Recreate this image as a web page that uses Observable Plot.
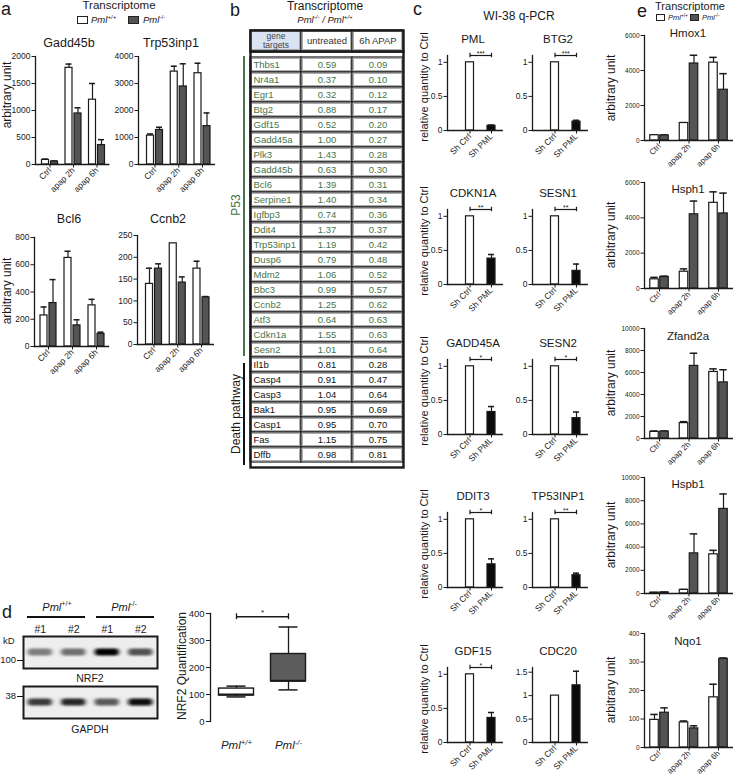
<!DOCTYPE html>
<html><head><meta charset="utf-8">
<script src="https://cdn.jsdelivr.net/npm/d3@7"></script>
<script src="https://cdn.jsdelivr.net/npm/@observablehq/plot@0.6"></script>
<style>
body{margin:0;background:#fff;}
#fig{position:relative;width:733px;height:778px;overflow:hidden;font-family:"Liberation Sans",Arial,Helvetica,sans-serif;color:#1a1a1a;background:#fff;}
.abs{position:absolute;white-space:nowrap;line-height:1;}
sup{font-size:0.65em;vertical-align:super;line-height:0;}
</style></head><body><div id="fig"></div>
<script>
// ================= DATA =================
// Panel a (Transcriptome, arbitrary unit)
const aCats = ["Ctrl", "apap 2h", "apap 6h"];
const gadd45bWT = [85, 1790, 1200];
const gadd45bWTErr = [15, 70, 300];
const gadd45bKO = [55, 945, 360];
const gadd45bKOErr = [10, 105, 100];
const trp53inp1WT = [1070, 3440, 3380];
const trp53inp1WTErr = [60, 200, 370];
const trp53inp1KO = [1280, 2890, 1420];
const trp53inp1KOErr = [100, 840, 490];
const bcl6WT = [228, 650, 302];
const bcl6WTErr = [62, 49, 44];
const bcl6KO = [319, 155, 93];
const bcl6KOErr = [172, 41, 12];
const ccnb2WT = [139, 232, 174];
const ccnb2WTErr = [36, 0, 17];
const ccnb2KO = [174, 142, 108];
const ccnb2KOErr = [11, 13, 2];
const gadd45bTicks = [0, 500, 1000, 1500, 2000];
const trp53inp1Ticks = [0, 1000, 2000, 3000, 4000];
const bcl6Ticks = [0, 200, 400, 600, 800];
const ccnb2Ticks = [0, 50, 100, 150, 200, 250];

// Panel b (table)
const tableColumns = ["gene targets", "untreated", "6h APAP"];
const p53Genes = ["Thbs1","Nr4a1","Egr1","Btg2","Gdf15","Gadd45a","Plk3","Gadd45b","Bcl6","Serpine1","Igfbp3","Ddit4","Trp53inp1","Dusp6","Mdm2","Bbc3","Ccnb2","Atf3","Cdkn1a","Sesn2"];
const p53Untreated = [0.59,0.37,0.32,0.88,0.52,1.00,1.43,0.63,1.39,1.40,0.74,1.37,1.19,0.79,1.06,0.99,1.25,0.64,1.55,1.01];
const p53APAP = [0.09,0.10,0.12,0.17,0.20,0.27,0.28,0.30,0.31,0.34,0.36,0.37,0.42,0.48,0.52,0.57,0.62,0.63,0.63,0.64];
const deathGenes = ["Il1b","Casp4","Casp3","Bak1","Casp1","Fas","Dffb"];
const deathUntreated = [0.81,0.91,1.04,0.95,0.95,1.15,0.98];
const deathAPAP = [0.28,0.47,0.64,0.69,0.70,0.75,0.81];

// Panel c (WI-38 q-PCR)
const cGroups = ["Sh Ctrl", "Sh PML"];
const cGenes = ["PML","BTG2","CDKN1A","SESN1","GADD45A","SESN2","DDIT3","TP53INP1","GDF15","CDC20"];
const cShCtrl = [1,1,1,1,1,1,1,1,1,1];
const cShPML = [0.07,0.13,0.38,0.20,0.33,0.24,0.34,0.18,0.36,1.22];
const cShPMLErr = [0.01,0.02,0.06,0.10,0.08,0.09,0.08,0.03,0.08,0.30];
const cStars = ["***","***","**","**","*","*","*","**","*",""];
const cTicks = [0, 0.5, 1];
const cdc20Ticks = [0, 0.5, 1, 1.5];
const cSigLevel = 1.1;

// Panel d (blot + NRF2 quantification)
const blotLanes = ["+/+ #1", "+/+ #2", "-/- #1", "-/- #2"];
const nrf2Band = [0.42, 0.48, 1.0, 0.62];
const gapdhBand = [0.72, 0.82, 0.58, 0.95];
const nrf2Groups = ["Pml+/+", "Pml-/-"];
const nrf2Min = [91, 117];
const nrf2Q1 = [96, 148];
const nrf2Median = [100, 151];
const nrf2Q3 = [122, 250];
const nrf2Max = [131, 350];
const nrf2Ticks = [0, 100, 200, 300, 400];
const nrf2SigLevel = 388;

// Panel e (Transcriptome)
const hmox1WT = [300, 1000, 4450], hmox1WTErr = [25, 20, 300];
const hmox1KO = [290, 4400, 2900], hmox1KOErr = [30, 470, 920];
const hsph1WT = [520, 950, 4850], hsph1WTErr = [110, 160, 620];
const hsph1KO = [650, 4200, 4250], hsph1KOErr = [50, 750, 1150];
const zfand2aWT = [600, 1400, 6050], zfand2aWTErr = [80, 130, 280];
const zfand2aKO = [630, 6600, 5100], zfand2aKOErr = [50, 1150, 1150];
const hspb1WT = [70, 310, 3380], hspb1WTErr = [20, 40, 340];
const hspb1KO = [90, 3460, 7290], hspb1KOErr = [30, 1680, 1290];
const nqo1WT = [97, 88, 176], nqo1WTErr = [19, 5, 46];
const nqo1KO = [122, 67, 311], nqo1KOErr = [17, 9, 3];
const hmox1Ticks = [0, 2000, 4000, 6000];
const hsph1Ticks = [0, 2000, 4000, 6000];
const zfand2aTicks = [0, 2000, 4000, 6000, 8000, 10000];
const hspb1Ticks = [0, 2000, 4000, 6000, 8000, 10000];
const nqo1Ticks = [0, 100, 200, 300, 400];

// ================= HELPERS =================
const FONT = '"Liberation Sans", Arial, Helvetica, sans-serif';
const INK = "#1a1a1a";
const KO = "#545454";
const GREEN = "#47744a";
const fig = document.getElementById("fig");
const NS = "http://www.w3.org/2000/svg";

function txt(html, x, y, o = {}) {
  const d = document.createElement("div");
  d.className = "abs";
  d.innerHTML = html;
  const a = o.anchor || "middle";
  const tx = a === "start" ? "0" : a === "end" ? "-100%" : "-50%";
  d.style.left = x + "px";
  d.style.top = y + "px";
  d.style.fontSize = (o.size || 12) + "px";
  if (o.color) d.style.color = o.color;
  if (o.italic) d.style.fontStyle = "italic";
  d.style.transform = `translate(${tx},-50%)` + (o.rotate ? ` rotate(${o.rotate}deg)` : "");
  fig.appendChild(d);
}
function box(x, y, w, h, css) {
  const d = document.createElement("div");
  d.className = "abs";
  d.style.left = x + "px"; d.style.top = y + "px";
  d.style.width = w + "px"; d.style.height = h + "px";
  d.style.boxSizing = "border-box";
  Object.assign(d.style, css);
  fig.appendChild(d);
}
function put(svg, left, top) {
  svg.style.position = "absolute";
  svg.style.left = left + "px";
  svg.style.top = top + "px";
  svg.style.overflow = "visible";
  svg.style.background = "transparent";
  svg.style.maxWidth = "none";
  fig.appendChild(svg);
}
function supify(svg) {
  svg.querySelectorAll("text").forEach(t => {
    const m = /^(Pml)(.+)$/.exec(t.textContent);
    if (!m) return;
    t.textContent = "";
    const a = document.createElementNS(NS, "tspan"); a.textContent = m[1];
    const b = document.createElementNS(NS, "tspan"); b.textContent = m[2];
    b.setAttribute("baseline-shift", "super"); b.setAttribute("font-size", "0.68em");
    t.append(a, b);
    t.setAttribute("font-style", "italic");
  });
}

function pairedBars(o) {
  const ML = 40, MR = 4, MT = 6, MB = 46;
  const n = o.cats.length;
  const inset = o.cx0 - o.step / 2;
  const plotW = inset + o.step * n;
  const plotH = o.Y1 - o.Y0;
  const p = 1 - o.bw / o.step;
  const mk = (vals, errs) => o.cats.map((c, i) => ({cat: c, v: vals[i], e: errs[i]}));
  const W = mk(o.wt, o.wtErr), K = mk(o.ko, o.koErr);
  const err = (rows, dx) => [
    Plot.ruleX(rows.filter(d => d.e > 0), {x: "cat", y1: "v", y2: d => d.v + d.e, dx, stroke: INK, strokeWidth: 1.2}),
    Plot.tickY(rows.filter(d => d.e > 0), {x: "cat", y: d => d.v + d.e, dx, stroke: INK, strokeWidth: 1.5, insetLeft: o.cap, insetRight: o.cap})
  ];
  const svg = Plot.plot({
    width: ML + plotW + MR, height: MT + plotH + MB,
    marginLeft: ML, marginRight: MR, marginTop: MT, marginBottom: MB,
    style: {fontFamily: FONT, color: INK, background: "transparent", overflow: "visible"},
    x: {type: "band", domain: o.cats, paddingInner: p, paddingOuter: p / 2, insetLeft: inset, round: false},
    y: {domain: [0, o.yMax]},
    marks: [
      ...err(W, -o.off), ...err(K, o.off),
      Plot.barY(W, {x: "cat", y: "v", dx: -o.off, fill: "#ffffff", stroke: INK, strokeWidth: 1.2}),
      Plot.barY(K, {x: "cat", y: "v", dx: o.off, fill: KO, stroke: INK, strokeWidth: 1.2}),
      Plot.frame({anchor: "left", stroke: INK, strokeWidth: 1.3}),
      Plot.frame({anchor: "bottom", stroke: INK, strokeWidth: 1.3}),
      Plot.axisY({ticks: o.ticks, tickFormat: d => String(d), tickSize: 3.5, tickPadding: 1.5, fontSize: o.tfs, label: null}),
      Plot.axisX({tickSize: 3.5, tickPadding: 1, tickRotate: -45, fontSize: o.xfs, label: null})
    ]
  });
  put(svg, o.X0 - ML, o.Y0 - MT);
}

function qpcr(o) {
  const ML = 30, MR = 4, MT = 16, MB = 44;
  const Y0 = o.t + 12, Y1 = o.t + 87;
  const step = 21.5, cx0 = 22.5, bw = 8;
  const inset = cx0 - step / 2;
  const plotW = inset + step * 2;
  const p = 1 - bw / step;
  const rows = [{g: cGroups[0], v: o.ctrl, e: 0}, {g: cGroups[1], v: o.pml, e: o.err}];
  const marks = [
    Plot.ruleX(rows.filter(d => d.e > 0), {x: "g", y1: "v", y2: d => d.v + d.e, stroke: INK, strokeWidth: 1.2}),
    Plot.tickY(rows.filter(d => d.e > 0), {x: "g", y: d => d.v + d.e, stroke: INK, strokeWidth: 1.5, insetLeft: 1, insetRight: 1}),
    Plot.barY(rows, {x: "g", y: "v", fill: "g", stroke: INK, strokeWidth: 1.2}),
    Plot.frame({anchor: "left", stroke: INK, strokeWidth: 1.3}),
    Plot.frame({anchor: "bottom", stroke: INK, strokeWidth: 1.3}),
    Plot.axisY({ticks: o.ticks, tickFormat: d => String(d), tickSize: 3.5, tickPadding: 1.5, fontSize: 8.5, label: null}),
    Plot.axisX({tickSize: 3.5, tickPadding: 1, tickRotate: -45, fontSize: 8.5, label: null})
  ];
  if (o.stars) {
    const lv = cSigLevel, dd = o.yMax * 0.03;
    marks.push(
      Plot.link([o.stars], {x1: () => cGroups[0], x2: () => cGroups[1], y1: () => lv, y2: () => lv, stroke: INK, strokeWidth: 1.2}),
      Plot.ruleX(cGroups, {x: g => g, y1: () => lv - dd, y2: () => lv + dd, stroke: INK, strokeWidth: 1.2}),
      Plot.text([o.stars], {x: () => cGroups[0], y: () => lv, text: s => s, dx: step / 2, dy: 0, lineAnchor: "bottom", fontSize: 7, fill: INK})
    );
  }
  const svg = Plot.plot({
    width: ML + plotW + MR, height: MT + (Y1 - Y0) + MB,
    marginLeft: ML, marginRight: MR, marginTop: MT, marginBottom: MB,
    style: {fontFamily: FONT, color: INK, background: "transparent", overflow: "visible"},
    x: {type: "band", domain: cGroups, paddingInner: p, paddingOuter: p / 2, insetLeft: inset, round: false},
    y: {domain: [0, o.yMax]},
    color: {domain: cGroups, range: ["#ffffff", "#0b0b0b"]},
    marks
  });
  put(svg, o.X0 - ML, Y0 - MT);
}

// ================= PANEL a =================
txt("a", 1, 9, {anchor: "start", size: 18});
txt("Transcriptome", 119, 5.5, {size: 11.5});
box(77, 15.5, 11, 8, {border: "1px solid #222", background: "#fff"});
txt("<i>Pml</i><sup>+/+</sup>", 91, 20, {anchor: "start", size: 9.5});
box(128, 15.5, 11, 8, {border: "1px solid #222", background: KO});
txt("<i>Pml</i><sup>-/-</sup>", 143, 20, {anchor: "start", size: 9.5});

pairedBars({X0: 35, Y0: 56, Y1: 164, cx0: 14.5, step: 23.5, bw: 7, off: 4.5, cap: 0.5, cats: aCats,
  wt: gadd45bWT, wtErr: gadd45bWTErr, ko: gadd45bKO, koErr: gadd45bKOErr, yMax: 2000, ticks: gadd45bTicks, tfs: 8.5, xfs: 8.5});
pairedBars({X0: 138, Y0: 56, Y1: 164, cx0: 16.5, step: 23.75, bw: 7, off: 4.5, cap: 0.5, cats: aCats,
  wt: trp53inp1WT, wtErr: trp53inp1WTErr, ko: trp53inp1KO, koErr: trp53inp1KOErr, yMax: 4000, ticks: trp53inp1Ticks, tfs: 8.5, xfs: 8.5});
pairedBars({X0: 34, Y0: 237, Y1: 346, cx0: 14, step: 24, bw: 7, off: 4.5, cap: 0.5, cats: aCats,
  wt: bcl6WT, wtErr: bcl6WTErr, ko: bcl6KO, koErr: bcl6KOErr, yMax: 800, ticks: bcl6Ticks, tfs: 8.5, xfs: 8.5});
pairedBars({X0: 137, Y0: 235, Y1: 344, cx0: 16.5, step: 23.75, bw: 7, off: 4.5, cap: 0.5, cats: aCats,
  wt: ccnb2WT, wtErr: ccnb2WTErr, ko: ccnb2KO, koErr: ccnb2KOErr, yMax: 250, ticks: ccnb2Ticks, tfs: 8.5, xfs: 8.5});
txt("Gadd45b", 69, 43, {size: 12.5});
txt("Trp53inp1", 171, 43, {size: 12.5});
txt("Bcl6", 69, 219, {size: 12.5});
txt("Ccnb2", 168, 219, {size: 12.5});
txt("arbitrary unit", 6.5, 95, {size: 12, rotate: -90});
txt("arbitrary unit", 6.5, 291, {size: 12, rotate: -90});

// ================= PANEL b =================
txt("b", 230, 10, {anchor: "start", size: 18});
txt("Transcriptome", 325, 6, {size: 12});
txt("<i>Pml<sup>-/-</sup> / Pml<sup>+/+</sup></i>", 325, 20, {size: 9.5});
{
  const rows = [
    ...p53Genes.map((g, i) => ({gene: g, grp: "P53", u: p53Untreated[i], a: p53APAP[i]})),
    ...deathGenes.map((g, i) => ({gene: g, grp: "Death", u: deathUntreated[i], a: deathAPAP[i]}))
  ];
  const cells = rows.flatMap(r => [
    {gene: r.gene, grp: r.grp, col: tableColumns[0], text: r.gene},
    {gene: r.gene, grp: r.grp, col: tableColumns[1], text: r.u.toFixed(2)},
    {gene: r.gene, grp: r.grp, col: tableColumns[2], text: r.a.toFixed(2)}
  ]);
  const colW = 153 / 3;
  const body = Plot.plot({
    width: 153, height: 416, margin: 0,
    style: {fontFamily: FONT, background: "transparent", overflow: "visible"},
    x: {type: "band", domain: tableColumns, padding: 0, axis: null},
    y: {type: "band", domain: rows.map(r => r.gene), padding: 0, axis: null},
    marks: [
      Plot.cell(cells, {x: "col", y: "gene", fill: "#ffffff", stroke: INK, strokeWidth: 1.2}),
      Plot.cell(cells, {x: "col", y: "gene", fill: "none", stroke: "#9a9a9a", strokeWidth: 0.8, inset: 1.6}),
      Plot.text(cells.filter(d => d.col === tableColumns[0]), {x: "col", y: "gene", text: "text", textAnchor: "start", dx: -colW / 2 + 3,
        fill: d => d.grp === "P53" ? GREEN : "#111", fontSize: 9.5}),
      Plot.text(cells.filter(d => d.col !== tableColumns[0]), {x: "col", y: "gene", text: "text",
        fill: d => d.grp === "P53" ? GREEN : "#111", fontSize: 9.5}),
      Plot.frame({stroke: INK, strokeWidth: 2.4})
    ]
  });
  put(body, 250, 51);
  const head = Plot.plot({
    width: 153, height: 21, margin: 0,
    style: {fontFamily: FONT, background: "transparent", overflow: "visible"},
    x: {type: "band", domain: tableColumns, padding: 0, axis: null},
    marks: [
      Plot.cell(tableColumns, {x: d => d, fill: d => d === tableColumns[0] ? "#d9e3f1" : "#ffffff", stroke: INK, strokeWidth: 1.2}),
      Plot.cell(tableColumns, {x: d => d, fill: "none", stroke: "#9a9a9a", strokeWidth: 0.8, inset: 1.6}),
      Plot.text(tableColumns.slice(1), {x: d => d, text: d => d, fontSize: 9.5, fill: "#333", frameAnchor: "middle"}),
      Plot.text(tableColumns.slice(0, 1), {x: d => d, text: () => "gene\ntargets", fontSize: 8.5, lineHeight: 1.05, fill: "#444", frameAnchor: "middle"}),
      Plot.frame({stroke: INK, strokeWidth: 2.4})
    ]
  });
  put(head, 250, 30);
  box(243, 56, 1.5, 300, {background: GREEN});
  box(243, 363, 1.5, 102, {background: "#111"});
  txt("P53", 236, 205, {size: 12, rotate: -90, color: GREEN});
  txt("Death pathway", 236, 414, {size: 12, rotate: -90});
}

// ================= PANEL c =================
txt("c", 413, 9, {anchor: "start", size: 18});
txt("WI-38 q-PCR", 519, 16, {size: 12});
{
  const rowT = [43, 197, 347, 500, 655];
  const colX = [447, 532];
  cGenes.forEach((g, i) => {
    const col = i % 2, row = Math.floor(i / 2);
    const big = cShPML[i] + cShPMLErr[i] > 1.1;
    qpcr({X0: colX[col], t: rowT[row], ctrl: cShCtrl[i], pml: cShPML[i], err: cShPMLErr[i], stars: cStars[i],
      yMax: big ? 1.6 : 1.1, ticks: big ? cdc20Ticks : cTicks});
    txt(g, colX[col] + 26, rowT[row] - 3, {size: 11.5});
    if (col === 0) txt("relative quantity to Ctrl", 424, rowT[row] + 44, {size: 11, rotate: -90});
  });
}

// ================= PANEL d =================
txt("d", 2, 612, {anchor: "start", size: 18});
txt("<i>Pml</i><sup>+/+</sup>", 57, 607, {size: 11});
txt("<i>Pml</i><sup>-/-</sup>", 124, 607, {size: 11});
box(27, 616, 58, 1.5, {background: "#111"});
box(96, 616, 58, 1.5, {background: "#111"});
function blot(values, top, withLanes, id) {
  const MT = withLanes ? 14 : 0;
  const svg = Plot.plot({
    width: 134, height: 32 + MT, marginTop: MT, marginLeft: 0, marginRight: 0, marginBottom: 0,
    style: {fontFamily: FONT, color: INK, background: "transparent", overflow: "visible"},
    x: {type: "band", domain: blotLanes, paddingInner: 0.28, paddingOuter: 0.14, round: false, axis: null},
    color: {type: "linear", domain: [0, 1], range: ["#d4d4d4", "#000000"]},
    marks: [
      Plot.frame({fill: "#eeeeee", stroke: "none"}),
      Plot.cell(blotLanes.map((l, i) => ({lane: l, v: values[i]})), {x: "lane", fill: "v", insetTop: 12.5, insetBottom: 12.5, rx: 3}),
      Plot.frame({stroke: INK, strokeWidth: 2}),
      ...(withLanes ? [Plot.axisX({anchor: "top", tickSize: 0, tickPadding: 4, tickFormat: d => d.split(" ")[1], fontSize: 10.5, label: null})] : [])
    ]
  });
  const defs = document.createElementNS(NS, "defs");
  defs.innerHTML = `<filter id="${id}" x="-30%" y="-150%" width="160%" height="400%"><feGaussianBlur stdDeviation="2.2 1.3"/></filter>`;
  svg.insertBefore(defs, svg.firstChild);
  svg.querySelectorAll('g[aria-label="cell"]').forEach(g => g.setAttribute("filter", `url(#${id})`));
  put(svg, 23, top - MT);
}
blot(nrf2Band, 636, true, "blurN");
blot(gapdhBand, 686, false, "blurG");
txt("kD", 3, 641, {anchor: "start", size: 9.5});
txt("100", 16, 660, {anchor: "end", size: 9.5});
box(17, 659.5, 6, 1.5, {background: "#111"});
txt("38", 16, 696, {anchor: "end", size: 9.5});
box(17, 695.5, 6, 1.5, {background: "#111"});
txt("NRF2", 90, 678, {size: 10.5});
txt("GAPDH", 90, 729, {size: 10.5});
{
  const ML = 32, MR = 6, MT = 8, MB = 34;
  const X0 = 210, Y0 = 613, Y1 = 721;
  const step = 52, bw = 35, p = 1 - bw / step;
  const rows = nrf2Groups.map((g, i) => ({g, min: nrf2Min[i], q1: nrf2Q1[i], med: nrf2Median[i], q3: nrf2Q3[i], max: nrf2Max[i]}));
  const lv = nrf2SigLevel;
  const svg = Plot.plot({
    width: ML + step * 2 + MR, height: MT + (Y1 - Y0) + MB,
    marginLeft: ML, marginRight: MR, marginTop: MT, marginBottom: MB,
    style: {fontFamily: FONT, color: INK, background: "transparent", overflow: "visible"},
    x: {type: "band", domain: nrf2Groups, paddingInner: p, paddingOuter: p / 2, round: false},
    y: {domain: [0, 400]},
    color: {domain: nrf2Groups, range: ["#ffffff", "#5c5c5c"]},
    marks: [
      Plot.ruleX(rows, {x: "g", y1: "min", y2: "max", stroke: INK, strokeWidth: 1.3}),
      Plot.tickY(rows, {x: "g", y: "min", stroke: INK, strokeWidth: 1.5, insetLeft: 8, insetRight: 8}),
      Plot.tickY(rows, {x: "g", y: "max", stroke: INK, strokeWidth: 1.5, insetLeft: 8, insetRight: 8}),
      Plot.barY(rows, {x: "g", y1: "q1", y2: "q3", fill: "g", stroke: INK, strokeWidth: 1.4}),
      Plot.tickY(rows, {x: "g", y: "med", stroke: INK, strokeWidth: 2}),
      Plot.link(["*"], {x1: () => nrf2Groups[0], x2: () => nrf2Groups[1], y1: () => lv, y2: () => lv, stroke: INK, strokeWidth: 1.3}),
      Plot.ruleX(nrf2Groups, {x: g => g, y1: () => lv - 11, y2: () => lv + 11, stroke: INK, strokeWidth: 1.3}),
      Plot.text(["*"], {x: () => nrf2Groups[0], y: () => lv, text: s => s, dx: step / 2, dy: -2, lineAnchor: "bottom", fontSize: 8, fill: INK}),
      Plot.frame({anchor: "left", stroke: INK, strokeWidth: 1.3}),
      Plot.axisY({ticks: nrf2Ticks, tickFormat: d => String(d), tickSize: 4, tickPadding: 2, fontSize: 9.5, label: null}),
      Plot.axisX({tickSize: 0, tickPadding: 19, fontSize: 11.5, label: null})
    ]
  });
  supify(svg);
  put(svg, X0 - ML, Y0 - MT);
  txt("NRF2 Quantification", 182, 666, {size: 12, rotate: -90});
}

// ================= PANEL e =================
txt("e", 637, 11, {anchor: "start", size: 18});
txt("Transcriptome", 690, 6, {size: 11});
box(656, 14, 9, 7, {border: "1px solid #222", background: "#fff"});
txt("<i>Pml</i><sup>+/+</sup>", 668, 17.5, {anchor: "start", size: 7.5});
box(690, 14, 9, 7, {border: "1px solid #222", background: KO});
txt("<i>Pml</i><sup>-/-</sup>", 702, 17.5, {anchor: "start", size: 7.5});
{
  const eCharts = [
    {name: "Hmox1", wt: hmox1WT, wtErr: hmox1WTErr, ko: hmox1KO, koErr: hmox1KOErr, yMax: 6000, ticks: hmox1Ticks, Y0: 35, Y1: 140, ty: 34},
    {name: "Hsph1", wt: hsph1WT, wtErr: hsph1WTErr, ko: hsph1KO, koErr: hsph1KOErr, yMax: 6000, ticks: hsph1Ticks, Y0: 182, Y1: 288, ty: 190},
    {name: "Zfand2a", wt: zfand2aWT, wtErr: zfand2aWTErr, ko: zfand2aKO, koErr: zfand2aKOErr, yMax: 10000, ticks: zfand2aTicks, Y0: 328, Y1: 438, ty: 337},
    {name: "Hspb1", wt: hspb1WT, wtErr: hspb1WTErr, ko: hspb1KO, koErr: hspb1KOErr, yMax: 10000, ticks: hspb1Ticks, Y0: 477, Y1: 593, ty: 485},
    {name: "Nqo1", wt: nqo1WT, wtErr: nqo1WTErr, ko: nqo1KO, koErr: nqo1KOErr, yMax: 400, ticks: nqo1Ticks, Y0: 633, Y1: 747, ty: 642}
  ];
  eCharts.forEach(c => {
    pairedBars({X0: 644, Y0: c.Y0, Y1: c.Y1, cx0: 15, step: 29.5, bw: 8.5, off: 5, cap: 0.5, cats: aCats,
      wt: c.wt, wtErr: c.wtErr, ko: c.ko, koErr: c.koErr, yMax: c.yMax, ticks: c.ticks, tfs: 6.5, xfs: 8});
    txt(c.name, 688, c.ty, {size: 11.5});
    txt("arbitrary unit", 611, (c.Y0 + c.Y1) / 2, {size: 12, rotate: -90});
  });
}
</script></body></html>
